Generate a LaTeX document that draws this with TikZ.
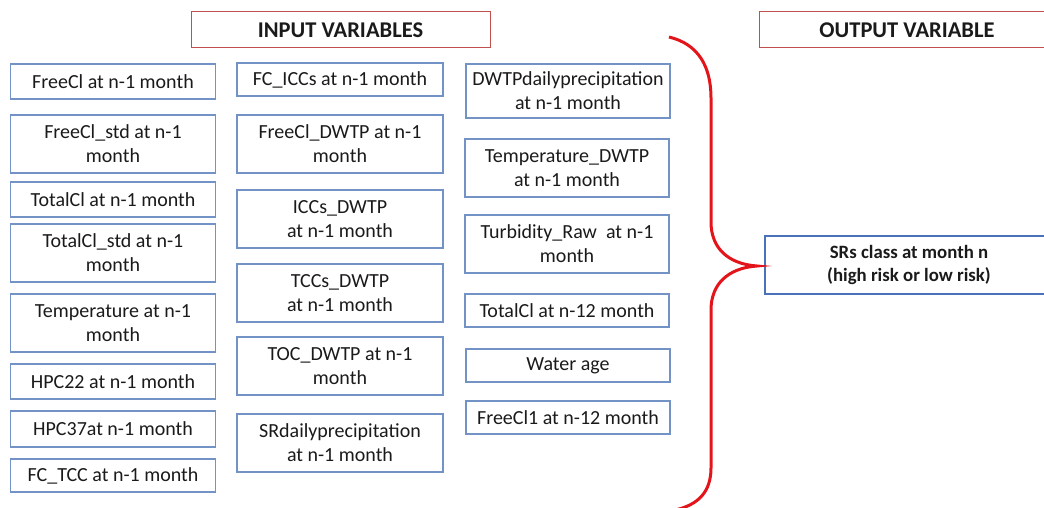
\documentclass[tikz,border=0pt]{standalone}
\usepackage{fontspec}
\setmainfont{Carlito}
\definecolor{inblue}{HTML}{7393C6}
\definecolor{outblue}{HTML}{4A72B8}
\definecolor{titlered}{HTML}{C0504D}
\definecolor{bracered}{HTML}{E3151B}
\definecolor{txt}{HTML}{1A1A1A}
\tikzset{
  ibox/.style={draw=inblue, line width=1.2pt, inner sep=0pt, align=center, text=txt,
    font=\fontsize{20}{24}\selectfont},
  c1box/.style={ibox, minimum width=205pt},
  c2box/.style={ibox, minimum width=206pt},
  c3box/.style={ibox, minimum width=204pt},
  titlebox/.style={draw=titlered, line width=1pt, inner sep=0pt, minimum height=36pt, text=txt,
    font=\fontsize{22.5}{26}\selectfont\bfseries},
  outbox/.style={draw=outblue, line width=2pt, inner sep=0pt, align=center, text=txt,
    font=\fontsize{18.8}{23.5}\selectfont\bfseries},
  bracestyle/.style={draw=bracered, line width=3pt}
}
\begin{document}
\begin{tikzpicture}[x=1pt, y=-1pt]
\useasboundingbox (0,0) rectangle (1044,508);
% titles
\node[titlebox, minimum width=299pt] (tin) at (340.5,30) {INPUT VARIABLES};
\node[titlebox, minimum width=296pt] (tout) at (907,30) {OUTPUT VARIABLE};
% column 1
\node[c1box, minimum height=35pt] (a1) at (113,81.5) {FreeCl at n-1 month};
\node[c1box, minimum height=58pt] (a2) at (113,144) {FreeCl\_std at n-1\\month};
\node[c1box, minimum height=35pt] (a3) at (113,199.5) {TotalCl at n-1 month};
\node[c1box, minimum height=58pt] (a4) at (113,253) {TotalCl\_std at n-1\\month};
\node[c1box, minimum height=58pt] (a5) at (113,323) {Temperature at n-1\\month};
\node[c1box, minimum height=35pt] (a6) at (113,381.5) {HPC22 at n-1 month};
\node[c1box, minimum height=36pt] (a7) at (113,429) {HPC37at n-1 month};
\node[c1box, minimum height=33pt] (a8) at (113,475.5) {FC\_TCC at n-1 month};
% column 2
\node[c2box, minimum height=33pt] (b1) at (340,79.5) {FC\_ICCs at n-1 month};
\node[c2box, minimum height=58pt] (b2) at (340,144) {FreeCl\_DWTP at n-1\\month};
\node[c2box, minimum height=58pt] (b3) at (340,219) {ICCs\_DWTP\\at n-1 month};
\node[c2box, minimum height=58pt] (b4) at (340,293) {TCCs\_DWTP\\at n-1 month};
\node[c2box, minimum height=58pt] (b5) at (340,366) {TOC\_DWTP at n-1\\month};
\node[c2box, minimum height=58pt] (b6) at (340,443) {SRdailyprecipitation\\at n-1 month};
% column 3
\node[c3box, minimum height=54pt] (c1) at (568,91) {DWTPdailyprecipitation\\at n-1 month};
\node[c3box, minimum height=58pt] (c2) at (567,168) {Temperature\_DWTP\\at n-1 month};
\node[c3box, minimum height=58pt] (c3) at (567,244) {Turbidity\_Raw\ \ at n-1\\month};
\node[c3box, minimum height=33pt] (c4) at (567,310.5) {TotalCl at n-12 month};
\node[c3box, minimum height=33pt] (c5) at (568,365.5) {Water age};
\node[c3box, minimum height=33pt] (c6) at (568,417.5) {FreeCl1 at n-12 month};
% output
\node[outbox, minimum width=288pt, minimum height=58pt] (out) at (909,265) {SRs class at month n\\(high risk or low risk)};
% brace
\coordinate (btop) at (669,37);
\coordinate (btip) at (757,266);
\coordinate (bbot) at (675,510);
\draw[bracestyle] (btop) .. controls (698,44) and (711,66) .. (711,98)
  -- (711,222) .. controls (711,248) and (728,264) .. (btip)
  .. controls (728,268) and (711,284) .. (711,310)
  -- (711,468) .. controls (711,492) and (698,505) .. (bbot);
\end{tikzpicture}
\end{document}
